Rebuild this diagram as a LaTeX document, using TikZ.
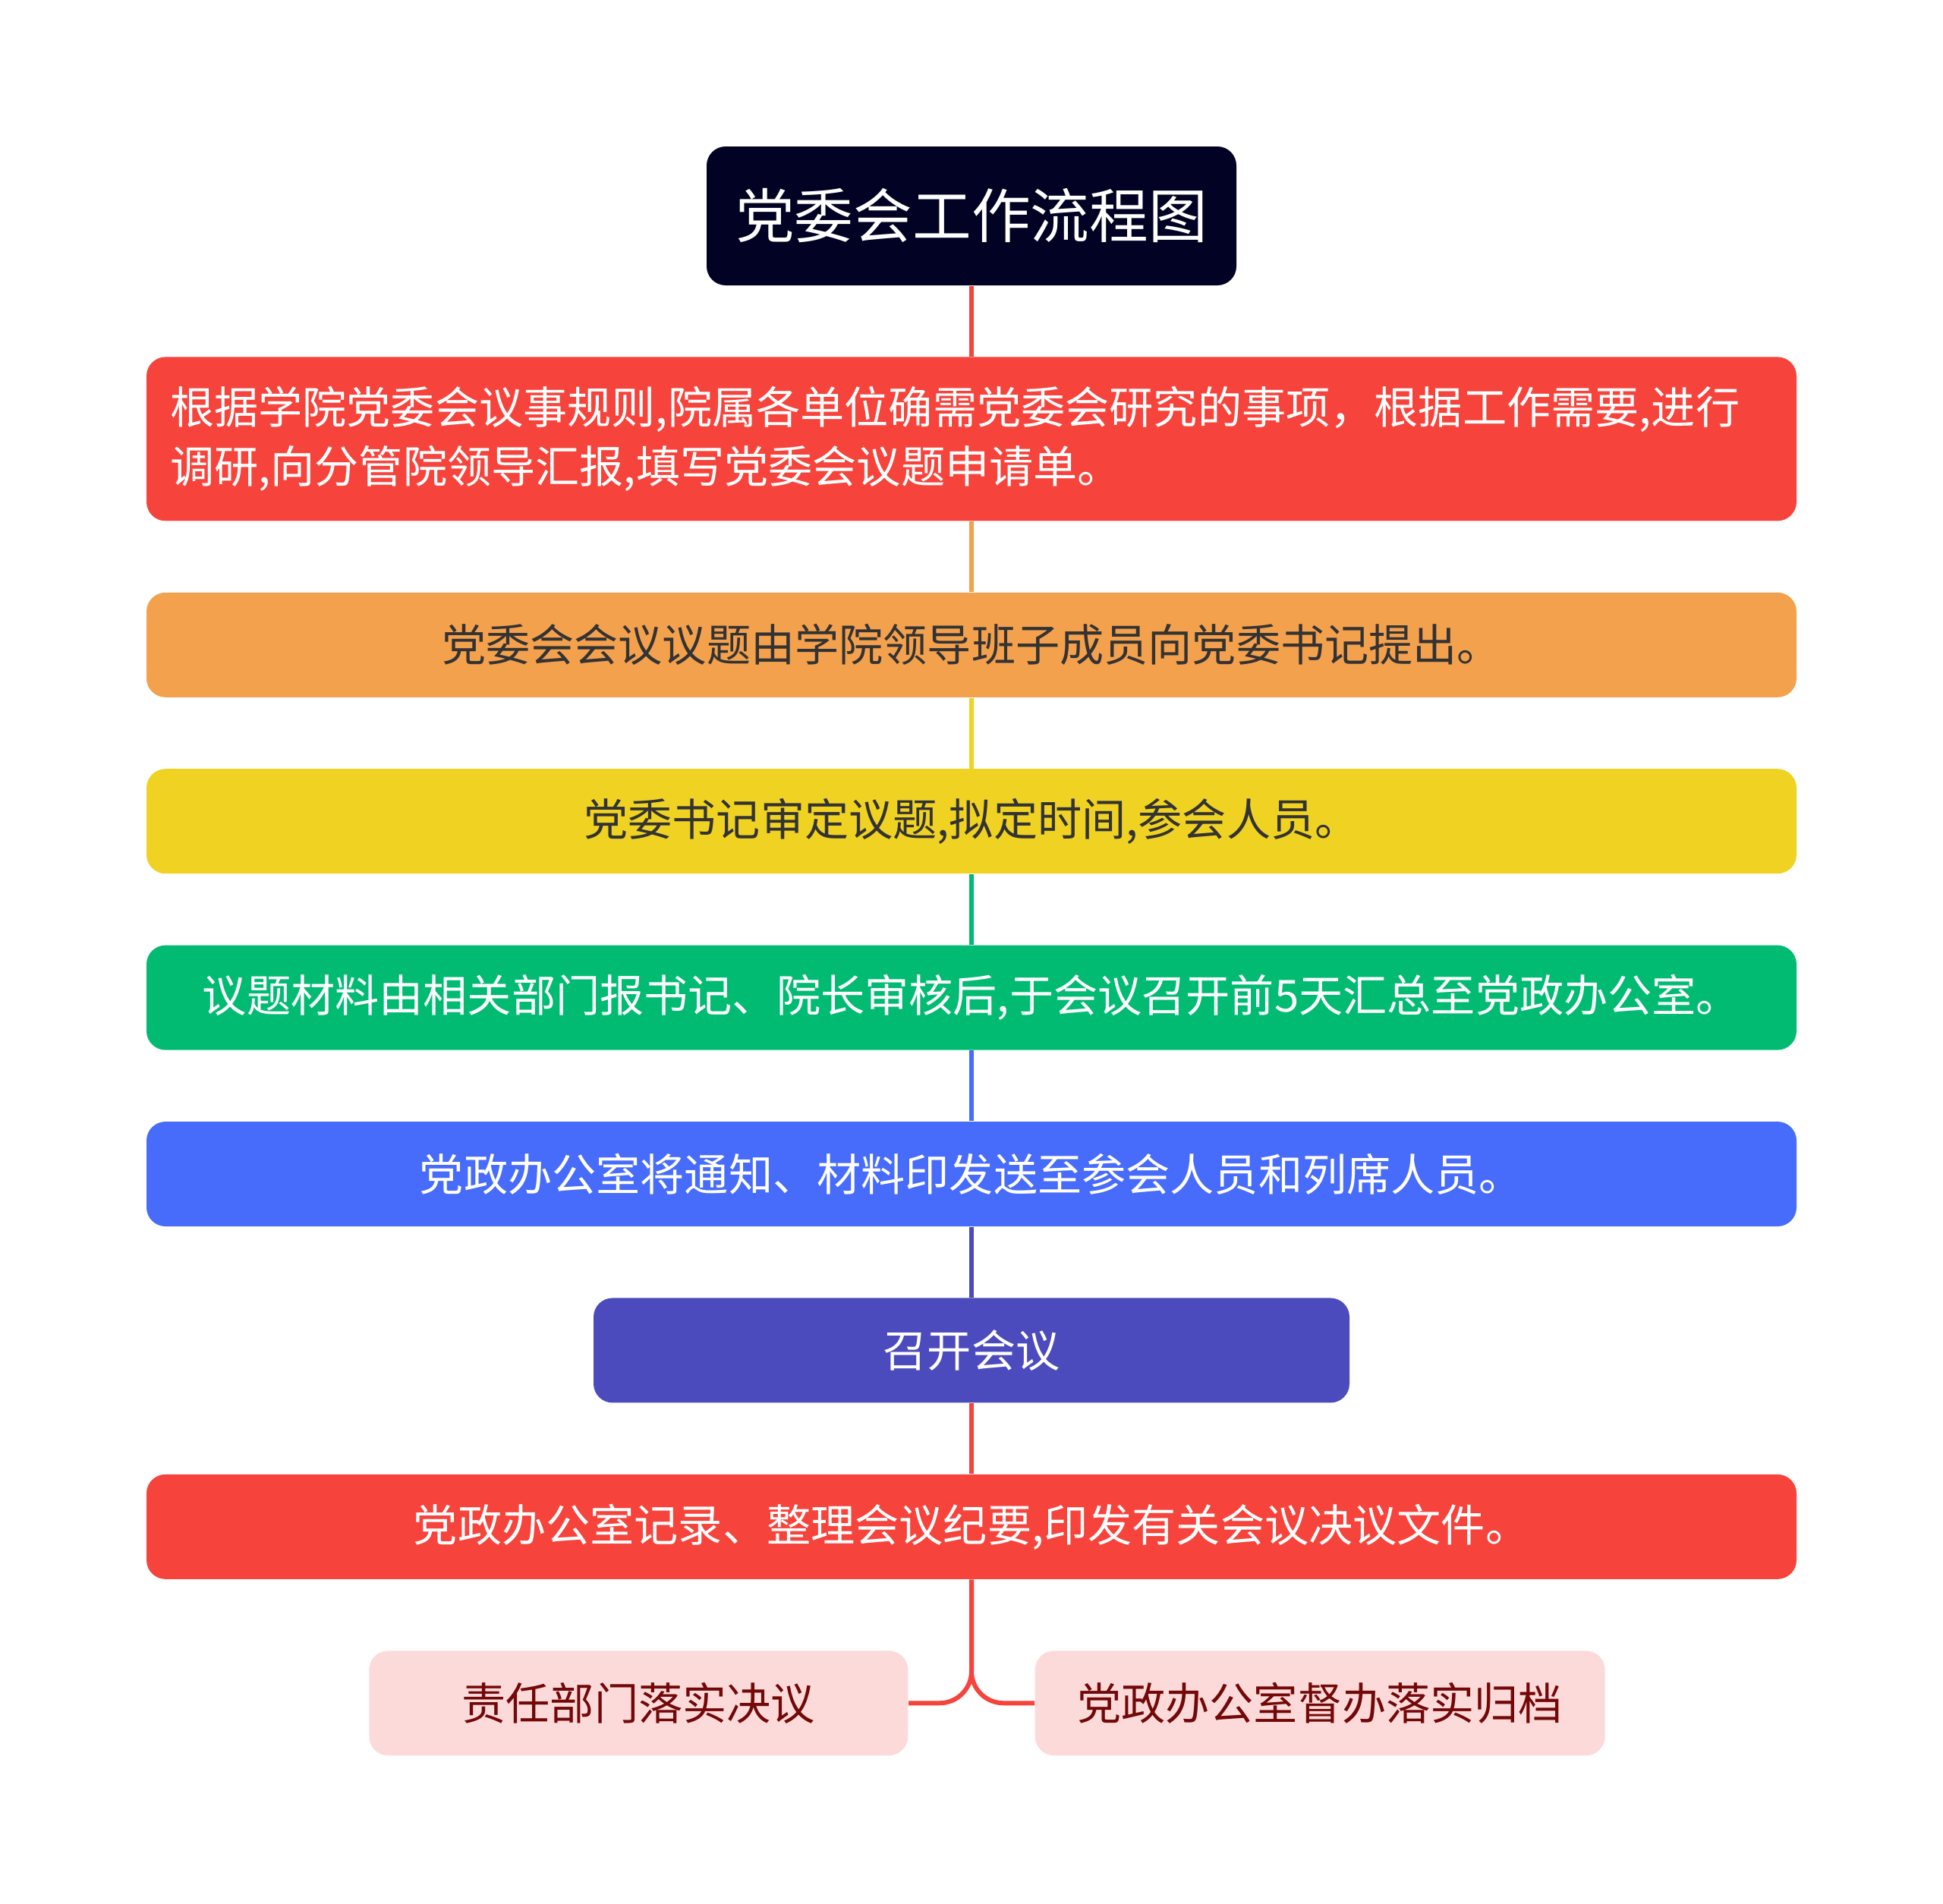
\documentclass[tikz,border=0pt]{standalone}
\usepackage{fontspec}
\usepackage{xcolor}
\usepackage{tikz}
\usetikzlibrary{positioning,calc}
\newfontfamily\cjk{Noto Sans CJK SC}
\definecolor{navy}{RGB}{2,3,36}
\definecolor{tomato}{RGB}{246,68,60}
\definecolor{apricot}{RGB}{244,161,78}
\definecolor{mustard}{RGB}{240,211,34}
\definecolor{jade}{RGB}{2,187,115}
\definecolor{azure}{RGB}{71,108,251}
\definecolor{indigo}{RGB}{76,75,190}
\definecolor{blush}{RGB}{253,218,218}
\definecolor{ink}{RGB}{51,51,51}
\definecolor{maroon}{RGB}{115,8,8}

\begin{document}
\begin{tikzpicture}[
  block/.style={rectangle,rounded corners=2.5mm,align=center,minimum width=21.74cm,minimum height=1.38cm,inner sep=0pt,text=white,font=\cjk\fontsize{16.55pt}{22.2pt}\selectfont},
  leaf/.style={block,fill=blush,text=maroon,minimum width=7.1cm},
  link/.style={line width=1.7pt}
]
\useasboundingbox (0,0) rectangle (25.6,-25.08);
\node[block,fill=navy,minimum width=6.98cm,minimum height=1.83cm,font=\cjk\fontsize{22.1pt}{26pt}\selectfont] (title) at (12.8,-2.845) {党委会工作流程图};
\node[block,fill=tomato,minimum height=2.16cm,text width=21.12cm,inner xsep=0.31cm,align=left,below=0.93cm of title] (req) {根据学院党委会议事规则,院属各单位确需党委会研究的事项，根据工作需要,进行\\调研,向分管院领导汇报,填写党委会议题申请单。};
\node[block,fill=apricot,text=ink,below=0.93cm of req] (prop) {党委会会议议题由学院领导班子成员向党委书记提出。};
\node[block,fill=mustard,text=ink,below=0.93cm of prop] (rev) {党委书记审定议题,拟定时间,参会人员。};
\node[block,fill=jade,below=0.93cm of rev] (mat) {议题材料由相关部门报书记、院长审核后,于会议召开前5天汇总至党政办公室。};
\node[block,fill=azure,below=0.93cm of mat] (notif) {党政办公室将通知、材料印发送至参会人员和列席人员。};
\node[block,fill=indigo,minimum width=9.96cm,below=0.93cm of notif] (meet) {召开会议};
\node[block,fill=tomato,below=0.93cm of meet] (rec) {党政办公室记录、整理会议纪要,印发有关会议决议文件。};
\node[leaf,below left=0.93cm and 0.83cm of rec.south] (impl) {责任部门落实决议};
\node[leaf,minimum width=7.51cm,below right=0.93cm and 0.83cm of rec.south] (arch) {党政办公室督办落实归档};
\draw[link,draw=tomato] (title) -- (req);
\draw[link,draw=apricot] (req) -- (prop);
\draw[link,draw=mustard] (prop) -- (rev);
\draw[link,draw=jade] (rev) -- (mat);
\draw[link,draw=azure] (mat) -- (notif);
\draw[link,draw=indigo] (notif) -- (meet);
\draw[link,draw=tomato] (meet) -- (rec);
\draw[link,draw=tomato,rounded corners=4.2mm] (rec.south) |- (impl.east);
\draw[link,draw=tomato,rounded corners=4.2mm] (rec.south) |- (arch.west);
\end{tikzpicture}
\end{document}
